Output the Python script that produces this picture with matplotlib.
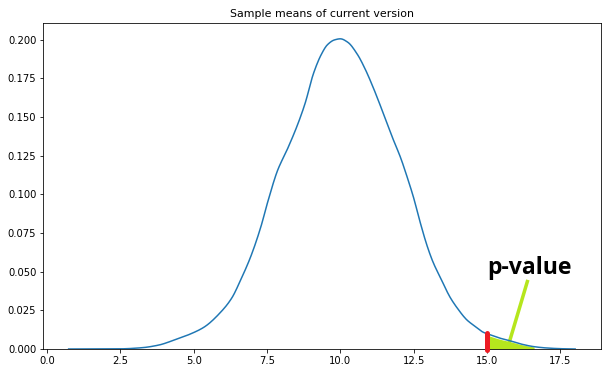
import numpy as np
import matplotlib.pyplot as plt

# density of the sample means
means = [0.74, 1.5, 2.5, 3.22, 3.8, 4.34, 4.9, 5.36, 5.93, 6.3, 6.61, 6.95, 7.29,
         7.53, 7.86, 8.2, 8.54, 8.8, 9.08, 9.35, 9.56, 9.8, 10.0, 10.25, 10.58,
         10.85, 11.12, 11.45, 11.8, 12.05, 12.27, 12.5, 12.71, 12.95, 13.15,
         13.45, 13.73, 14.0, 14.31, 14.6, 14.85, 15.1, 15.42, 15.8, 16.2, 16.6,
         17.0, 17.5, 18.0]
density = [0.0, 0.00003, 0.0001, 0.0008, 0.0025, 0.0058, 0.0098, 0.0142, 0.024,
           0.033, 0.045, 0.06, 0.079, 0.0955, 0.1155, 0.1295, 0.145, 0.159,
           0.178, 0.1905, 0.1968, 0.1999, 0.2006, 0.1984, 0.1905, 0.1808, 0.169,
           0.153, 0.1355, 0.1238, 0.1115, 0.0975, 0.0825, 0.067, 0.0565, 0.0445,
           0.0337, 0.026, 0.0188, 0.0145, 0.011, 0.0092, 0.0071, 0.0052, 0.003,
           0.0015, 0.0007, 0.0002, 0.0]

observed = 15.0
tail_end = 16.6
pointer_x = [15.76, 16.37]
pointer_y = [0.0047, 0.0436]


def pchip(x, y, xs):
    # monotone cubic through the read points, just to draw a smooth line
    x = np.asarray(x, float)
    y = np.asarray(y, float)
    h = np.diff(x)
    d = np.diff(y) / h
    m = np.zeros_like(y)
    for k in range(1, len(x) - 1):
        if d[k - 1] * d[k] > 0:
            w1 = 2 * h[k] + h[k - 1]
            w2 = h[k] + 2 * h[k - 1]
            m[k] = (w1 + w2) / (w1 / d[k - 1] + w2 / d[k])
    m[0], m[-1] = d[0], d[-1]
    i = np.clip(np.searchsorted(x, xs) - 1, 0, len(x) - 2)
    t = (xs - x[i]) / h[i]
    h00 = 2 * t**3 - 3 * t**2 + 1
    h10 = t**3 - 2 * t**2 + t
    h01 = -2 * t**3 + 3 * t**2
    h11 = t**3 - t**2
    return h00 * y[i] + h10 * h[i] * m[i] + h01 * y[i + 1] + h11 * h[i] * m[i + 1]


fig = plt.figure(figsize=(608 / 72, 373 / 72), dpi=72)
ax = fig.add_axes([43.3 / 608, 24 / 373, (600.5 - 43.3) / 608, (349 - 23.3) / 373])

grid = np.linspace(means[0], means[-1], 600)
curve = pchip(means, density, grid)
ax.plot(grid, curve, color="#1f77b4", lw=1.5, zorder=3)
ax.set_ylim(bottom=0)

# shaded p-value area and the observed mean marker
xs = np.linspace(observed, tail_end, 60)
ax.fill_between(xs, 0, pchip(means, density, xs) * 0.9, color="#b5e61d", lw=0, zorder=1)
top = pchip(means, density, np.array([observed]))[0]
ax.plot([observed, observed], [-0.0004, top + 0.0008],
        color="#ed1c24", lw=5, solid_capstyle="round", clip_on=False, zorder=4)
ax.plot(pointer_x, pointer_y, color="#b5e61d", lw=3.5, zorder=2)
ax.text(16.46, 0.0484, "p-value", family="Open Sans", weight="bold", fontsize=23,
        ha="center", va="baseline")

ax.set_title("Sample means of current version", fontsize=11)
fig.savefig("out.png", dpi=72)
